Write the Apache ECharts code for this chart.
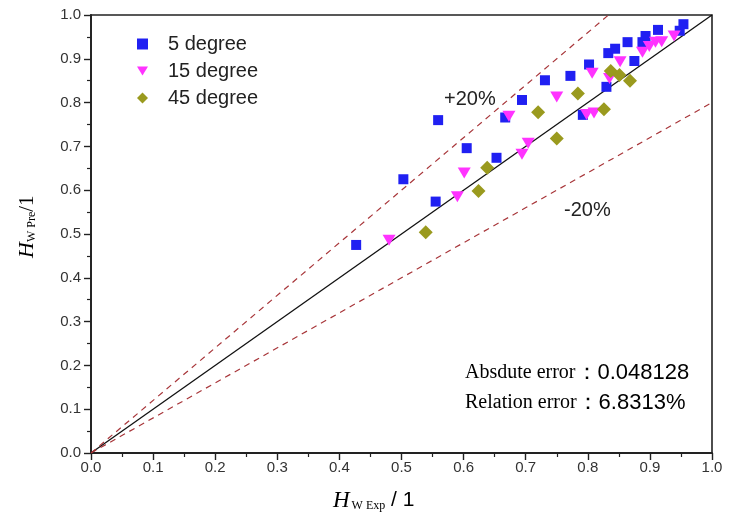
<!DOCTYPE html>
<html><head><meta charset="utf-8">
<script src="https://cdn.jsdelivr.net/npm/echarts@6/dist/echarts.min.js"></script>
<style>html,body{margin:0;padding:0;background:#fff}#c{width:729px;height:522px}</style>
</head><body><div id="c"></div>
<script>
const seriesNames = ['5 degree', '15 degree', '45 degree'];
const exp5 = [0.427,0.503,0.555,0.559,0.605,0.653,0.667,0.694,0.731,0.772,0.792,0.802,0.830,0.833,0.844,0.864,0.875,0.888,0.893,0.913,0.948,0.954];
const pre5 = [0.475,0.625,0.574,0.760,0.696,0.674,0.766,0.806,0.851,0.861,0.772,0.887,0.836,0.913,0.923,0.938,0.895,0.938,0.952,0.966,0.964,0.979];
const exp15 = [0.480,0.590,0.601,0.673,0.694,0.704,0.750,0.798,0.807,0.810,0.835,0.852,0.888,0.899,0.909,0.919,0.939];
const pre15 = [0.486,0.585,0.639,0.769,0.682,0.707,0.813,0.773,0.867,0.776,0.855,0.893,0.915,0.928,0.938,0.939,0.952];
const exp45 = [0.539,0.624,0.638,0.720,0.750,0.784,0.826,0.837,0.851,0.868];
const pre45 = [0.504,0.598,0.651,0.778,0.718,0.821,0.785,0.872,0.863,0.850];
const refRatios = [1.0, 1.2, 0.8];
const errorLabels = ['Absdute error', 'Relation error'];
const errorValues = ['0.048128', '6.8313%'];

const zip = (a,b) => a.map((v,i)=>[v,b[i]]);
const refLine = r => r >= 1 ? [[0,0],[1/r,1]] : [[0,0],[1,r]];

const chart = echarts.init(document.getElementById('c'));
const sans = 'Liberation Sans, Arial, sans-serif';
const serif = 'Liberation Serif, Times New Roman, serif';
const axisCommon = {
  min: 0, max: 1, interval: 0.1,
  axisLine: {lineStyle: {color: '#222', width: 1.8}},
  axisTick: {show: true, inside: false, length: 7, lineStyle: {color: '#222', width: 1.4}},
  minorTick: {show: true, splitNumber: 2, length: 4, lineStyle: {color: '#222', width: 1.2}},
  splitLine: {show: false},
  axisLabel: {fontFamily: sans, fontSize: 15, color: '#333', formatter: v => v.toFixed(1)}
};
chart.setOption({
  animation: false,
  grid: {left: 91, right: 17, top: 15, bottom: 69, show: true, borderColor: '#222', borderWidth: 1.6},
  xAxis: Object.assign({type: 'value'}, axisCommon, {axisLabel: Object.assign({}, axisCommon.axisLabel, {margin: 7})}),
  yAxis: Object.assign({type: 'value'}, axisCommon, {axisLabel: Object.assign({}, axisCommon.axisLabel, {margin: 10})}),
  legend: {
    orient: 'vertical', left: 132, top: 29, itemGap: 7, itemWidth: 11, itemHeight: 11,
    data: [
      {name: seriesNames[0], icon: 'rect'},
      {name: seriesNames[1], icon: 'path://M0,0 L12,0 L6,10 Z'},
      {name: seriesNames[2], icon: 'diamond'}
    ],
    textStyle: {fontFamily: sans, fontSize: 20, lineHeight: 20, color: '#222', padding: [0,0,0,15]}
  },
  series: [
    {type: 'line', data: refLine(refRatios[0]), symbol: 'none', silent: true, lineStyle: {color: '#111', width: 1.3}, z: 1},
    {type: 'line', data: refLine(refRatios[1]), symbol: 'none', silent: true, lineStyle: {color: '#a8363a', width: 1.2, type: [6,5]}, z: 1},
    {type: 'line', data: refLine(refRatios[2]), symbol: 'none', silent: true, lineStyle: {color: '#a8363a', width: 1.2, type: [6,5]}, z: 1},
    {name: seriesNames[0], type: 'scatter', symbol: 'rect', symbolSize: 10, itemStyle: {color: '#2020f2', opacity: 1}, data: zip(exp5, pre5), z: 3},
    {name: seriesNames[1], type: 'scatter', symbol: 'triangle', symbolRotate: 180, symbolSize: [13,11], itemStyle: {color: '#ff33ff', opacity: 1}, data: zip(exp15, pre15), z: 4},
    {name: seriesNames[2], type: 'scatter', symbol: 'diamond', symbolSize: 14, itemStyle: {color: '#9a9a1e', opacity: 1}, data: zip(exp45, pre45), z: 5}
  ],
  graphic: [
    {type: 'text', left: 444, top: 89, style: {text: '+20%', font: '20px ' + sans, fill: '#222'}},
    {type: 'text', left: 564, top: 200, style: {text: '-20%', font: '20px ' + sans, fill: '#222'}},
    {type: 'text', left: 465, top: 362, style: {
      text: '{a|' + errorLabels[0] + '}{b|：' + errorValues[0] + '}',
      rich: {a: {fontFamily: serif, fontSize: 20, color: '#111'}, b: {fontFamily: sans, fontSize: 22, color: '#222'}}}},
    {type: 'text', left: 465, top: 392, style: {
      text: '{a|' + errorLabels[1] + '}{b|：' + errorValues[1] + '}',
      rich: {a: {fontFamily: serif, fontSize: 20, color: '#111'}, b: {fontFamily: sans, fontSize: 22, color: '#222'}}}},
    {type: 'text', left: 333, top: 489, style: {
      text: '{h|H}{s|W Exp}{n| / 1}',
      rich: {h: {fontFamily: serif, fontStyle: 'italic', fontSize: 23, color: '#111'},
             s: {fontFamily: serif, fontSize: 12, color: '#111', padding: [10,0,0,2]},
             n: {fontFamily: sans, fontSize: 21, color: '#222'}}}},
    {type: 'text', x: 16, y: 258, rotation: Math.PI/2, style: {
      text: '{h|H}{s|W Pre}{n|/1}',
      rich: {h: {fontFamily: serif, fontStyle: 'italic', fontSize: 22, color: '#111'},
             s: {fontFamily: serif, fontSize: 12, color: '#111', padding: [10,0,0,0]},
             n: {fontFamily: serif, fontSize: 21, color: '#222'}}}}
  ]
});
</script></body></html>
